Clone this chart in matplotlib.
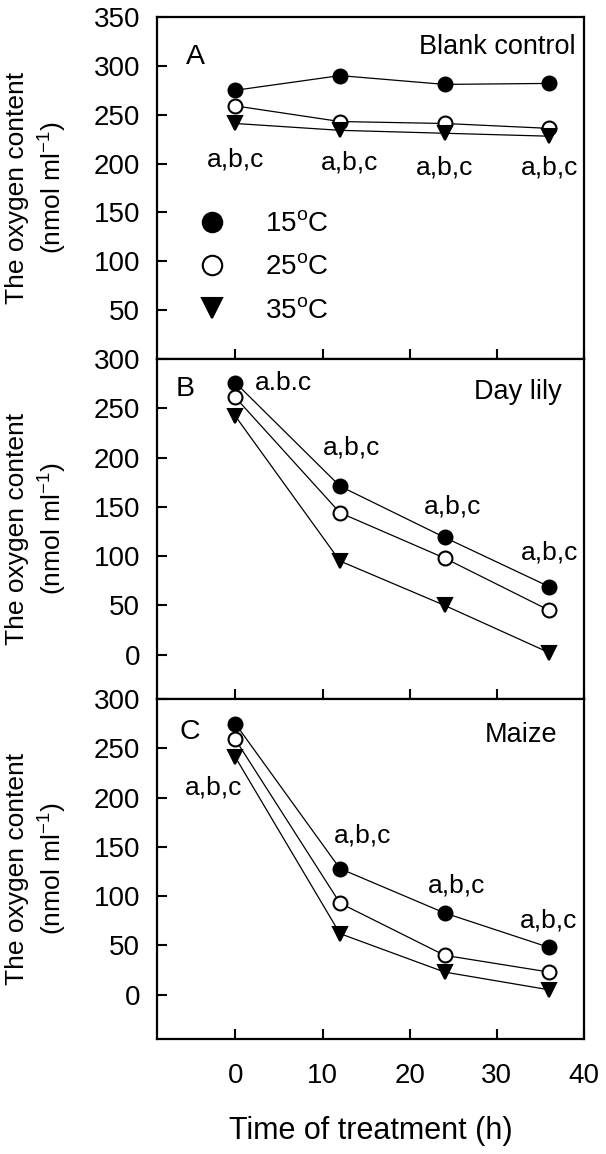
import matplotlib
matplotlib.use('Agg')
import matplotlib.pyplot as plt
from matplotlib.lines import Line2D

plt.rcParams['font.family'] = ['Liberation Sans', 'DejaVu Sans']
plt.rcParams['mathtext.default'] = 'regular'

hours = [0, 12, 24, 36]
temps = ['15$^{o}$C', '25$^{o}$C', '35$^{o}$C']

blank_15 = [275, 290, 281, 282]
blank_25 = [259, 243, 241, 236]
blank_35 = [241, 234, 231, 228]

lily_15 = [276, 171, 119, 69]
lily_25 = [261, 144, 98, 45]
lily_35 = [242, 95, 50, 2]

maize_15 = [275, 128, 83, 48]
maize_25 = [259, 93, 40, 23]
maize_35 = [241, 62, 23, 5]

panel_letters = ['A', 'B', 'C']
panel_titles = ['Blank control', 'Day lily', 'Maize']

# (x, y, ha, text) of significance labels per panel
sig_pos = [
    [(0, 204, 'center', 'a,b,c'), (13.1, 201, 'center', 'a,b,c'),
     (24, 196, 'center', 'a,b,c'), (36.1, 196, 'center', 'a,b,c')],
    [(2.2, 276, 'left', 'a.b.c'), (13.3, 210, 'center', 'a,b,c'),
     (24.9, 150, 'center', 'a,b,c'), (36.1, 104, 'center', 'a,b,c')],
    [(-2.5, 210, 'center', 'a,b,c'), (14.6, 162, 'center', 'a,b,c'),
     (25.4, 111, 'center', 'a,b,c'), (35.9, 75, 'center', 'a,b,c')],
]

series = [
    (blank_15, blank_25, blank_35),
    (lily_15, lily_25, lily_35),
    (maize_15, maize_25, maize_35),
]

styles = [
    dict(marker='o', mfc='black', mec='black'),
    dict(marker='o', mfc='white', mec='black'),
    dict(marker='v', mfc='black', mec='black'),
]

fig = plt.figure(figsize=(6.06, 11.54), dpi=100)
left, width = 0.259, 0.7046
boxes = [(0.6889, 0.2964), (0.3943, 0.2946), (0.0996, 0.2946)]
ylims = [(0, 350), (-45, 300), (-45, 300)]
yticks = [range(50, 351, 50), range(0, 301, 50), range(0, 301, 50)]
letter_pos = [(0.089, 0.883), (0.066, 0.912), (0.077, 0.903)]
title_pos = [(0.981, 0.912), (0.948, 0.903), (0.937, 0.894)]

axes = []
for i in range(3):
    ax = fig.add_axes([left, boxes[i][0], width, boxes[i][1]])
    for vals, st in zip(series[i], styles):
        ax.plot(hours, vals, color='black', lw=0.9, ms=10, mew=1.5,
                **st)
    ax.set_xlim(-9, 40)
    ax.set_ylim(*ylims[i])
    ax.set_yticks(list(yticks[i]))
    ax.set_xticks([0, 10, 20, 30, 40])
    ax.tick_params(direction='in', length=7, width=1.5, labelsize=20)
    ax.tick_params(axis='y', pad=12)
    ax.tick_params(axis='x', pad=17)
    for s in ax.spines.values():
        s.set_linewidth(1.6)
    if i < 2:
        ax.tick_params(axis='x', labelbottom=False)
    ax.set_ylabel('The oxygen content\n(nmol ml$^{-1}$)', fontsize=19,
                  va='center', linespacing=1.3)
    ax.yaxis.set_label_coords(-0.281, 0.5)
    ax.text(*letter_pos[i], panel_letters[i], transform=ax.transAxes,
            fontsize=20.5, ha='center', va='center')
    ax.text(*title_pos[i], panel_titles[i], transform=ax.transAxes,
            fontsize=19.5, ha='right', va='center')
    for x, y, ha, t in sig_pos[i]:
        ax.text(x, y, t, fontsize=19, ha=ha, va='center')
    axes.append(ax)

axes[2].set_xlabel('Time of treatment (h)', fontsize=22, labelpad=20)

handles = [Line2D([], [], linestyle='none', color='black', ms=14, mew=1.5, **st)
           for st in styles]
axes[0].legend(handles, temps, loc='upper left', bbox_to_anchor=(0.096, 0.432),
               frameon=False, fontsize=20, handlelength=1.0,
               handletextpad=1.4, labelspacing=0.62, borderpad=0,
               borderaxespad=0)

fig.savefig('out.png', dpi=100)
